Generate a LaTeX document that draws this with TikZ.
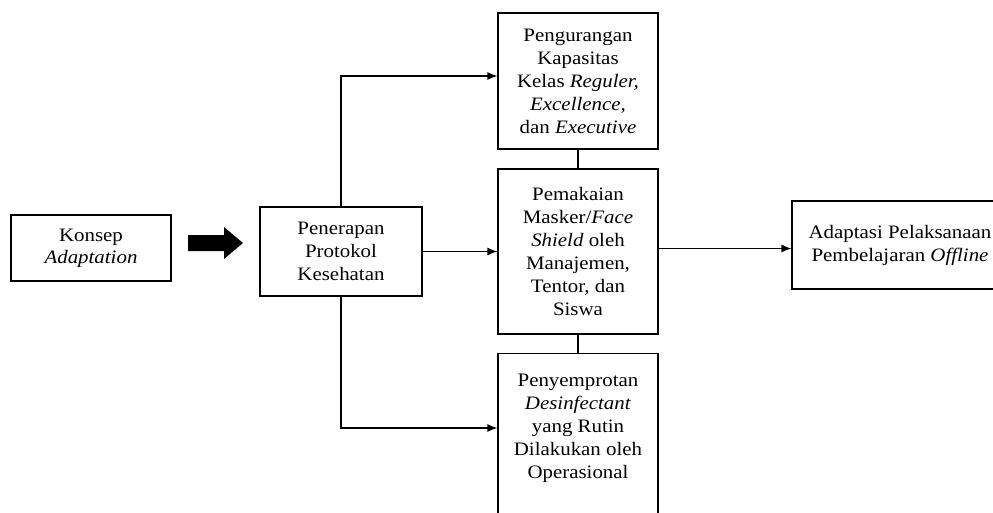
\documentclass[tikz,border=0pt]{standalone}
\usepackage{fontspec}
\setmainfont[FakeStretch=1.1]{Liberation Serif}
\usetikzlibrary{arrows.meta}
\begin{document}
\begin{tikzpicture}[x=1pt,y=-1pt,
  every node/.style={font=\fontsize{19}{23}\selectfont},
  box/.style={draw,line width=1.2pt,align=center,inner sep=0pt,minimum width=160pt},
  txt/.style={align=center,inner sep=0pt},
  conn/.style={line width=1.2pt},
  arr/.style={line width=1.2pt,-{Latex[length=10pt,width=8pt]}}]
\useasboundingbox (0,0) rectangle (993,512);
\clip (0,0) rectangle (993,512);
\node[box,minimum height=66pt,font=\fontsize{19}{22}\selectfont] (konsep) at (91,248) {Konsep\\\textit{Adaptation}};
\node[box,minimum width=162pt,minimum height=89pt] (pen) at (341,251.5) {Penerapan\\Protokol\\Kesehatan};
\node[box,minimum height=136pt] (top) at (578,81) {Pengurangan\\Kapasitas\\Kelas \textit{Reguler,}\\\textit{Excellence},\\dan \textit{Executive}};
\node[box,minimum height=165pt] (mid) at (578,251.5) {Pemakaian\\Masker/\textit{Face}\\\textit{Shield} oleh\\Manajemen,\\Tentor, dan\\Siswa};
\node[box,minimum height=180pt,anchor=north] (bot) at (578,353) {};
\node[txt] (bottxt) at (578,428) {Penyemprotan\\\textit{Desinfectant}\\yang Rutin\\Dilakukan oleh\\Operasional};
\node[box,minimum width=216pt,minimum height=88pt] (right) at (900,245) {Adaptasi Pelaksanaan\\Pembelajaran \textit{Offline}};
% thick arrow
\fill (188,235) -- (224,235) -- (224,227) -- (243,243) -- (224,259) -- (224,251) -- (188,251) -- cycle;
% connectors
\draw[arr] (pen.north) |- ([yshift=5pt]top.west);
\draw[arr] (pen.east) -- (mid.west);
\draw[arr] (pen.south) |- (bot.west |- bottxt.center);
\draw[conn] (top.south) -- (mid.north);
\draw[conn] (mid.south) -- (bot.north);
\draw[arr] ([yshift=3pt]mid.east) -- ([yshift=3pt]mid.east -| right.west);
\end{tikzpicture}
\end{document}
